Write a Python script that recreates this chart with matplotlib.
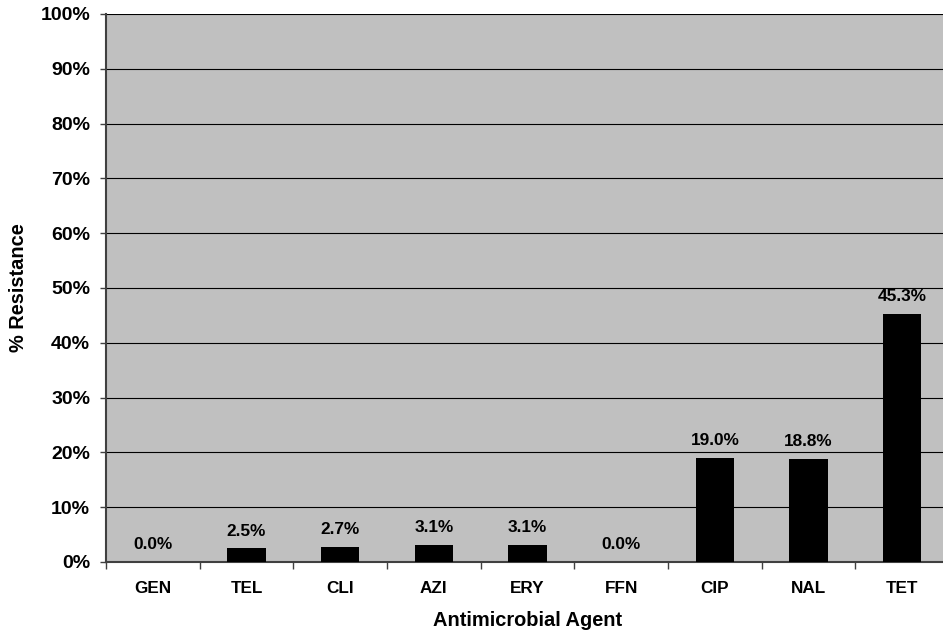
import matplotlib.pyplot as plt
import numpy as np

plt.rcParams['font.family'] = ['Liberation Sans', 'DejaVu Sans']
plt.rcParams['font.weight'] = 'bold'

agents = ['GEN', 'TEL', 'CLI', 'AZI', 'ERY', 'FFN', 'CIP', 'NAL', 'TET']
resistance = [0.0, 2.5, 2.7, 3.1, 3.1, 0.0, 19.0, 18.8, 45.3]
y_ticks = [0, 10, 20, 30, 40, 50, 60, 70, 80, 90, 100]

fig = plt.figure(figsize=(9.43, 6.34), dpi=100)
# plot area runs slightly past the right edge of the image, as in the original
ax = fig.add_axes([106 / 943, 1 - 562 / 634, (949 - 106) / 943, (562 - 14) / 634])
ax.set_facecolor('#c0c0c0')

x = np.arange(len(agents))
bars = ax.bar(x, resistance, width=0.41, color='black', zorder=3)

for xi, v in zip(x, resistance):
    ax.annotate('%.1f%%' % v, (xi, v), xytext=(0, 7), textcoords='offset points',
                ha='center', va='bottom', fontsize=12.4, fontweight='bold', zorder=4)

ax.set_xlim(-0.5, len(agents) - 0.5)
ax.set_ylim(0, 100)
ax.set_yticks(y_ticks)
ax.set_yticklabels(['%d%%' % t for t in y_ticks], fontsize=14, fontweight='bold')
ax.yaxis.grid(True, color='black', linewidth=0.8, zorder=1)
ax.set_axisbelow(True)

ax.set_xticks(x)
ax.set_xticklabels(agents, fontsize=12.3, fontweight='bold')
ax.tick_params(axis='x', length=0, pad=14)
ax.set_xticks(np.arange(len(agents) + 1) - 0.5, minor=True)
ax.tick_params(axis='x', which='minor', length=5, width=1, color='#404040')
ax.tick_params(axis='y', length=4.3, width=1, color='#404040', pad=7.2)

for side in ['top', 'right']:
    ax.spines[side].set_visible(False)
ax.spines['left'].set_color('#404040')
ax.spines['left'].set_linewidth(1.5)
ax.spines['bottom'].set_color('#404040')
ax.spines['bottom'].set_linewidth(1.5)

ax.set_xlabel('Antimicrobial Agent', fontsize=14.4, fontweight='bold', va='center')
ax.xaxis.set_label_coords(0.5, -0.106)
ax.set_ylabel('% Resistance', fontsize=14.4, fontweight='bold', va='center')
ax.yaxis.set_label_coords(-0.104, 0.5)

fig.savefig('out.png', dpi=100)
